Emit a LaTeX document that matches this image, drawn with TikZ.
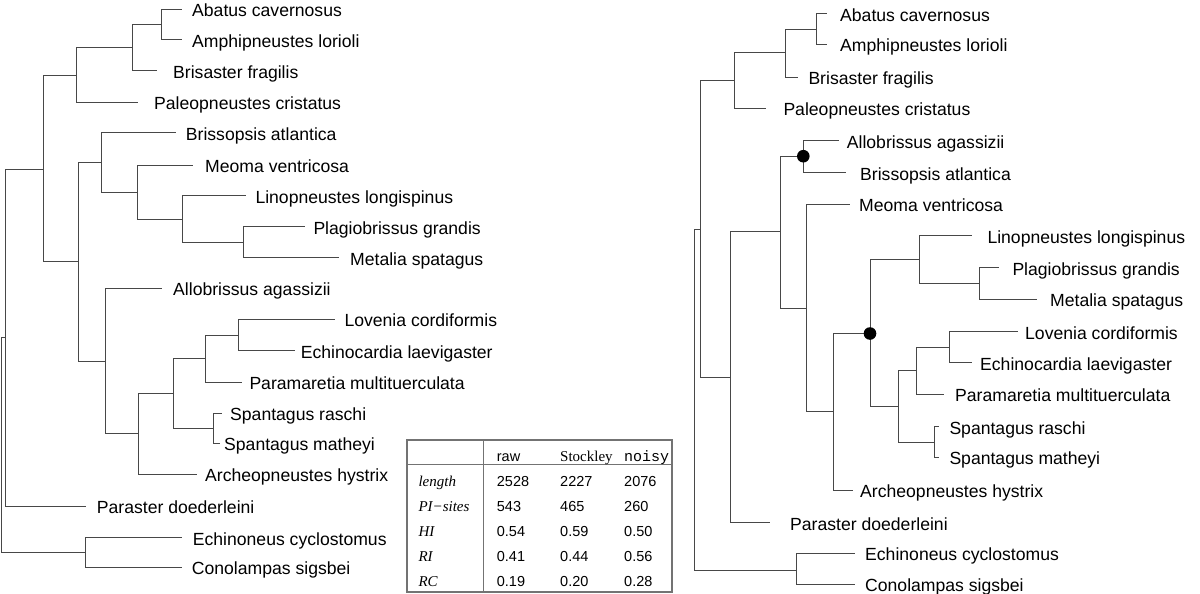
\documentclass[tikz,border=0pt]{standalone}
\usepackage{fontspec}
\setmainfont{Liberation Sans}
\newfontfamily\tserif{Liberation Serif}
\newfontfamily\tmono{Liberation Mono}
\begin{document}
\begin{tikzpicture}[x=1pt,y=-1pt,
  br/.style={draw=black!72,line width=1pt},
  lbl/.style={anchor=west,inner sep=0pt,text height=12.6pt,text depth=0pt,font=\fontsize{17.6}{20}\selectfont},
  tcell/.style={anchor=base west,inner sep=0pt,font=\fontsize{14.5}{17}\selectfont},
  tit/.style={anchor=base west,inner sep=0pt,font=\tserif\itshape\fontsize{15}{17}\selectfont},
  tline/.style={draw=black!55,line width=1.2pt},
  dot/.style={fill=black}]
\useasboundingbox (0,0) rectangle (1200,594);

% ---------------- left tree: internal nodes
\foreach \n/\x/\y in {lR/1.7/444.5, lone/5.7/337.6, lA/43.5/169.3, lB/76/75.7, lD/132.7/47.3,
  lE/161.7/24.7, lC/78.3/261.8, lF/101/162.2, lH/137.7/192, lI/182.7/219, lJ/243.3/242.2,
  lG/105/361.2, lK/138.3/433.8, lL/173.3/393.3, lM/205/358.7, lO/238.3/335, lN/213.3/428.3,
  lEC/85/552.5}
  \coordinate (\n) at (\x,\y);

% left leaves: name / line end x / y / text x / text
\foreach \n/\xe/\y/\xt/\t in {
  lAb/181.7/9.3/192/Abatus cavernosus,
  lAm/182/40/192/Amphipneustes lorioli,
  lBr/156.7/71/173/Brisaster fragilis,
  lPa/138.3/102.3/154/Paleopneustes cristatus,
  lBs/175.7/132.7/185.7/Brissopsis atlantica,
  lMe/193.3/165/205/Meoma ventricosa,
  lLi/246/195.7/255.3/Linopneustes longispinus,
  lPl/305/226.7/313.3/Plagiobrissus grandis,
  lMt/339.3/257.7/350/Metalia spatagus,
  lAl/161.7/288.3/173/Allobrissus agassizii,
  lLo/335/319.3/344.3/Lovenia cordiformis,
  lEc/295/350.7/300.7/Echinocardia laevigaster,
  lPm/241.7/382.3/249.3/Paramaretia multituerculata,
  lSr/221.7/413.3/230/Spantagus raschi,
  lSm/220/443.3/224/Spantagus matheyi,
  lAr/196.7/474.3/205/Archeopneustes hystrix,
  lPd/86/506/96.7/Paraster doederleini,
  lEn/181.7/537.7/192.7/Echinoneus cyclostomus,
  lCo/181.7/567.3/191.7/Conolampas sigsbei}
{
  \coordinate (e\n) at (\xe,\y);
  \node[lbl] (\n) at (\xt,\y+1) {\t};
}

\foreach \a/\b in {lR/lone, lR/lEC, lone/lA, lone/elPd, lA/lB, lA/lC, lB/lD, lB/elPa,
  lD/lE, lD/elBr, lE/elAb, lE/elAm, lC/lF, lC/lG, lF/elBs, lF/lH, lH/elMe, lH/lI,
  lI/elLi, lI/lJ, lJ/elPl, lJ/elMt, lG/elAl, lG/lK, lK/lL, lK/elAr, lL/lM, lL/lN,
  lM/lO, lM/elPm, lO/elLo, lO/elEc, lN/elSr, lN/elSm, lEC/elEn, lEC/elCo}
  \draw[br] (\a) |- (\b);

% ---------------- right tree: internal nodes
\foreach \n/\x/\y in {rR/694.3/399.5, rA/700/229.2, rB/734.3/80.7, rD/785.7/52.3,
  rE/816.7/29.2, rC/730/377.5, rF/780.7/231.7, rG/803.3/156.2, rH/806/308,
  rI/833.3/411.7, rJ/870/333.5, rK/919.3/259.5, rM/979/283.5, rL/898.3/406.5,
  rN/916.7/370.8, rP/949/347.2, rO/934.3/442, rEC/796/570}
  \coordinate (\n) at (\x,\y);

\foreach \n/\xe/\y/\xt/\t in {
  rAb/826.7/14/840/Abatus cavernosus,
  rAm/826.7/44.3/840/Amphipneustes lorioli,
  rBr/798.3/77.3/808.3/Brisaster fragilis,
  rPa/766/108.3/783.3/Paleopneustes cristatus,
  rAl/839/140.7/846.7/Allobrissus agassizii,
  rBs/845.7/172.7/860/Brissopsis atlantica,
  rMe/850/204.3/859/Meoma ventricosa,
  rLi/971.7/235.7/987.3/Linopneustes longispinus,
  rPl/999.3/267.7/1012.3/Plagiobrissus grandis,
  rMt/1036.7/299.3/1050/Metalia spatagus,
  rLo/1018.3/331.7/1025/Lovenia cordiformis,
  rEc/971.7/362.7/980/Echinocardia laevigaster,
  rPm/944/394/955/Paramaretia multituerculata,
  rSr/939.3/426.7/949.3/Spantagus raschi,
  rSm/939.3/457.3/949.3/Spantagus matheyi,
  rAr/853.3/490/860/Archeopneustes hystrix,
  rPd/770/522.7/790/Paraster doederleini,
  rEn/855/553.3/865/Echinoneus cyclostomus,
  rCo/855/584/865/Conolampas sigsbei}
{
  \coordinate (e\n) at (\xe,\y);
  \node[lbl] (\n) at (\xt,\y+1) {\t};
}

\foreach \a/\b in {rR/rA, rR/rEC, rA/rB, rA/rC, rB/rD, rB/erPa, rD/rE, rD/erBr,
  rE/erAb, rE/erAm, rC/rF, rC/erPd, rF/rG, rF/rH, rG/erAl, rG/erBs, rH/erMe, rH/rI,
  rI/rJ, rI/erAr, rJ/rK, rJ/rL, rK/erLi, rK/rM, rM/erPl, rM/erMt, rL/rN, rL/rO,
  rN/rP, rN/erPm, rP/erLo, rP/erEc, rO/erSr, rO/erSm, rEC/erEn, rEC/erCo}
  \draw[br] (\a) |- (\b);

\fill[dot] (rG) circle[radius=6.3pt];
\fill[dot] (rJ) circle[radius=6.3pt];

% ---------------- table
\coordinate (tTL) at (407,440);
\coordinate (tBR) at (672,592);
\coordinate (tHL) at (407,464.3);
\coordinate (tHR) at (672,464.3);
\coordinate (tVT) at (483.3,440);
\coordinate (tVB) at (483.3,592);
\draw[tline] (tTL) rectangle (tBR);
\draw[tline] (tHL) -- (tHR);
\draw[tline] (tVT) -- (tVB);

\node[tcell] (hraw) at (496.7,461.2) {raw};
\node[tcell,font=\tserif\fontsize{15}{17}\selectfont] (hsto) at (560,461.2) {Stockley};
\node[tcell,font=\tmono\fontsize{15}{17}\selectfont] (hnoi) at (624,461.2) {noisy};

\foreach \r/\y/\lab/\a/\b/\c in {
  len/481/length/2528/2227/2076,
  pis/506/PI−sites/543/465/260,
  hi/531/HI/0.54/0.59/0.50,
  ri/556/RI/0.41/0.44/0.56,
  rc/581/RC/0.19/0.20/0.28}
{
  \node[tit] (t\r) at (418.3,\y+5.2) {\lab};
  \node[tcell] (a\r) at (496.7,\y+5.2) {\a};
  \node[tcell] (b\r) at (560,\y+5.2) {\b};
  \node[tcell] (c\r) at (624,\y+5.2) {\c};
}
\end{tikzpicture}
\end{document}
